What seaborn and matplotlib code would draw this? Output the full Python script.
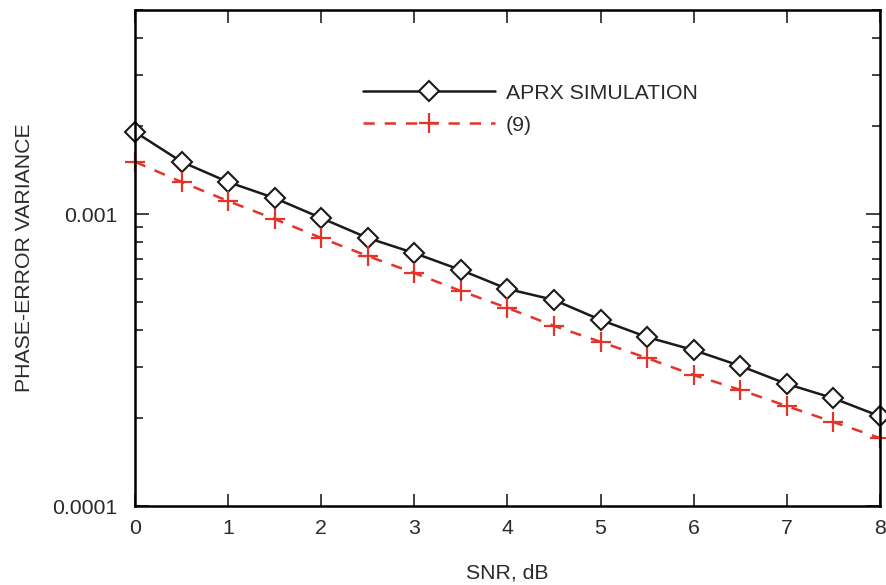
import numpy as np
import pandas as pd
import matplotlib
matplotlib.use("Agg")
import matplotlib.pyplot as plt
import seaborn as sns
from matplotlib.ticker import LogLocator, NullFormatter, FixedLocator, FixedFormatter

snr_db = [0, 0.5, 1, 1.5, 2, 2.5, 3, 3.5, 4, 4.5, 5, 5.5, 6, 6.5, 7, 7.5, 8]
aprx_sim = [1.91e-3, 1.51e-3, 1.287e-3, 1.134e-3, 0.969e-3, 0.828e-3, 0.735e-3, 0.643e-3,
            0.554e-3, 0.508e-3, 0.434e-3, 0.379e-3, 0.342e-3, 0.302e-3, 0.262e-3, 0.234e-3, 0.203e-3]
eq9 = [1.51e-3, 1.287e-3, 1.108e-3, 0.961e-3, 0.828e-3, 0.718e-3, 0.628e-3, 0.545e-3,
       0.477e-3, 0.414e-3, 0.365e-3, 0.321e-3, 0.281e-3, 0.250e-3, 0.220e-3, 0.194e-3, 0.171e-3]
series_names = ["APRX SIMULATION", "(9)"]
y_tick_values = [1e-4, 1e-3]
y_tick_labels = ["0.0001", "0.001"]
x_tick_values = [0, 1, 2, 3, 4, 5, 6, 7, 8]

df = pd.DataFrame({
    "snr": snr_db * 2,
    "var": aprx_sim + eq9,
    "series": [series_names[0]] * len(snr_db) + [series_names[1]] * len(snr_db),
})

sns.set_theme(style="ticks")
plt.rcParams["font.family"] = ["Liberation Sans", "DejaVu Sans"]
text_color = "#2a2a2a"
fs = 15.3

fig = plt.figure(figsize=(8.86, 5.85), dpi=100)
ax = fig.add_axes([0.1524, 0.135, 0.8406, 0.848])

black = "#1a1a1a"
red = "#e5332a"
sns.lineplot(data=df[df.series == series_names[0]], x="snr", y="var", ax=ax,
             color=black, lw=1.8, marker="D", markersize=10, markerfacecolor="white",
             markeredgecolor=black, markeredgewidth=1.5, label=series_names[0], clip_on=False)
sns.lineplot(data=df[df.series == series_names[1]], x="snr", y="var", ax=ax,
             color=red, lw=1.8, linestyle=(0, (4.5, 4)), marker="+", markersize=14,
             markeredgecolor=red, markeredgewidth=1.6, label=series_names[1], clip_on=False)

ax.set_yscale("log")
ax.set_xlim(0, 8)
ax.set_ylim(1e-4, 5e-3)

ax.xaxis.set_major_locator(FixedLocator(x_tick_values))
ax.set_xticklabels([str(v) for v in x_tick_values])
ax.yaxis.set_major_locator(FixedLocator(y_tick_values))
ax.yaxis.set_major_formatter(FixedFormatter(y_tick_labels))
ax.yaxis.set_minor_locator(LogLocator(base=10, subs=np.arange(2, 10)))
ax.yaxis.set_minor_formatter(NullFormatter())

ax.tick_params(axis="both", which="major", direction="in", top=True, right=True,
               length=10, width=1.3, color="#333333", labelsize=fs, labelcolor=text_color, pad=13)
ax.tick_params(axis="x", which="major", length=9, pad=9)
ax.tick_params(axis="y", which="minor", direction="in", left=True, right=True,
               length=6, width=1.3, color="#333333")
ax.tick_params(axis="x", which="minor", bottom=False, top=False)

for s in ax.spines.values():
    s.set_linewidth(1.8)
    s.set_color("black")

ax.set_xlabel("SNR, dB", fontsize=fs, color=text_color, labelpad=19)
ax.set_ylabel("PHASE-ERROR VARIANCE", fontsize=fs, color=text_color, labelpad=13)

leg = ax.legend(loc="upper left", bbox_to_anchor=(0.281, 0.89), frameon=False,
                handlelength=6.2, handletextpad=0.5, fontsize=fs, labelspacing=0.62)
for t in leg.get_texts():
    t.set_color(text_color)

fig.savefig("out.png", dpi=100)
